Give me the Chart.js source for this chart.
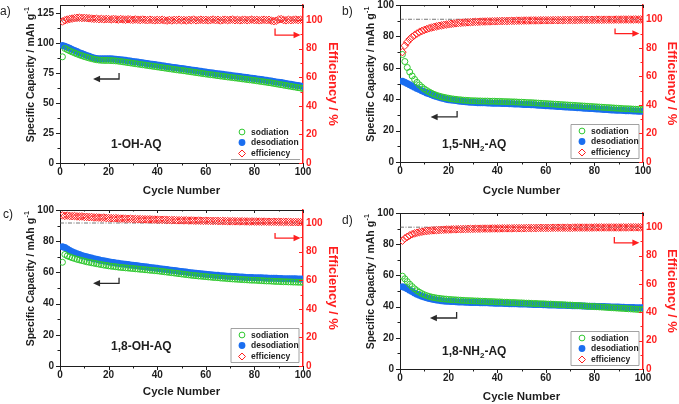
<!DOCTYPE html>
<html>
<head>
<meta charset="utf-8">
<script src="https://cdn.jsdelivr.net/npm/chart.js@4.4.0/dist/chart.umd.min.js"></script>
<style>
html, body { margin: 0; padding: 0; background: #fff; }
#wrap { position: relative; width: 679px; height: 404px; overflow: hidden; }
#wrap canvas { position: absolute; }
</style>
</head>
<body>
<div id="wrap">
  <canvas id="pa" width="340" height="200" style="left:0;top:0"></canvas>
  <canvas id="pb" width="339" height="200" style="left:340px;top:0"></canvas>
  <canvas id="pc" width="340" height="204" style="left:0;top:200px"></canvas>
  <canvas id="pd" width="339" height="204" style="left:340px;top:200px"></canvas>
</div>
<script>
// cycle numbers
var cycles = [1,2,3,4,5,6,7,8,9,10,11,12,13,14,15,16,17,18,19,20,
  21,22,23,24,25,26,27,28,29,30,31,32,33,34,35,36,37,38,39,40,
  41,42,43,44,45,46,47,48,49,50,51,52,53,54,55,56,57,58,59,60,
  61,62,63,64,65,66,67,68,69,70,71,72,73,74,75,76,77,78,79,80,
  81,82,83,84,85,86,87,88,89,90,91,92,93,94,95,96,97,98,99,100];

// tick labels
var xTicks = [0, 20, 40, 60, 80, 100];
var capTicksA = [0, 25, 50, 75, 100, 125];
var capTicks = [0, 20, 40, 60, 80, 100];
var effTicks = [0, 20, 40, 60, 80, 100];

// a) 1-OH-AQ
var sodA = [88.5,95.5,94.5,93.5,92.6,91.7,90.9,90.1,89.4,88.7,88.1,87.5,87.0,86.5,86.1,85.8,85.6,85.5,85.5,85.5,
  85.4,85.3,85.1,84.9,84.6,84.3,84.0,83.7,83.4,83.1,82.8,82.5,82.2,81.9,81.6,81.3,81.0,80.7,80.4,80.1,
  79.8,79.5,79.2,78.9,78.6,78.3,78.0,77.7,77.4,77.2,76.9,76.6,76.3,76.0,75.7,75.4,75.1,74.8,74.5,74.2,
  73.9,73.6,73.4,73.1,72.8,72.5,72.3,72.0,71.7,71.5,71.2,70.9,70.7,70.4,70.1,69.9,69.6,69.3,69.1,68.8,
  68.5,68.2,67.9,67.6,67.3,67.0,66.7,66.3,66.0,65.6,65.3,64.9,64.6,64.2,63.9,63.5,63.2,62.8,62.5,62.1];
var desA = [98.0,97.3,96.5,95.6,94.7,93.8,92.9,92.0,91.2,90.4,89.6,88.9,88.2,87.6,87.2,87.0,86.9,86.9,86.9,86.9,
  86.8,86.7,86.5,86.3,86.0,85.9,85.6,85.3,85.0,84.7,84.4,84.1,83.8,83.5,83.2,82.9,82.6,82.3,82.0,81.7,
  81.4,81.1,80.8,80.5,80.2,79.9,79.6,79.3,79.0,78.8,78.5,78.2,77.9,77.6,77.3,77.0,76.7,76.4,76.1,75.8,
  75.5,75.2,75.0,74.7,74.4,74.1,73.9,73.6,73.3,73.1,72.8,72.5,72.3,72.0,71.7,71.5,71.2,70.9,70.7,70.4,
  70.1,69.8,69.5,69.2,68.9,68.6,68.3,67.9,67.6,67.3,67.0,66.6,66.3,65.9,65.6,65.2,64.9,64.5,64.2,63.8];
var effA = [99.0,99.8,100.3,100.7,101.0,101.3,101.5,101.6,101.4,101.5,101.3,101.2,101.0,100.8,100.9,100.6,100.8,100.5,100.7,100.6,
  100.4,100.7,100.5,100.3,100.6,100.4,100.2,100.5,100.3,100.1,100.4,100.2,100.0,100.3,100.1,99.9,100.2,100.0,99.8,100.1,
  99.9,100.2,99.8,99.6,100.0,99.7,100.1,99.9,100.2,99.8,100.0,99.7,100.1,99.9,100.3,99.8,100.0,100.2,99.9,100.1,
  99.8,100.0,100.3,99.9,100.1,99.7,100.0,100.2,99.9,100.1,100.3,99.9,100.1,99.8,100.0,100.2,99.9,100.1,100.3,99.9,
  100.1,99.8,100.0,100.2,99.9,100.1,99.6,99.2,99.5,100.4,100.6,100.0,99.8,100.2,99.9,100.1,100.3,100.0,100.2,99.9];

// b) 1,5-NH2-AQ
var sodB = [68.5,64.0,60.2,57.3,54.8,52.6,50.7,49.1,47.7,46.5,45.5,44.6,43.8,43.1,42.5,42.0,41.6,41.2,40.9,40.6,
  40.3,40.1,39.9,39.7,39.6,39.4,39.3,39.2,39.1,39.0,39.0,38.9,38.9,38.8,38.8,38.8,38.7,38.7,38.7,38.6,
  38.6,38.5,38.5,38.4,38.4,38.3,38.3,38.2,38.1,38.1,38.0,37.9,37.8,37.8,37.7,37.6,37.5,37.4,37.3,37.2,
  37.1,37.0,36.9,36.8,36.7,36.6,36.5,36.4,36.3,36.2,36.1,36.0,35.9,35.8,35.7,35.6,35.5,35.4,35.3,35.2,
  35.1,35.0,34.9,34.8,34.7,34.6,34.5,34.4,34.3,34.2,34.1,34.0,33.9,33.9,33.8,33.7,33.6,33.6,33.5,33.4];
var desB = [51.5,50.8,50.0,49.2,48.4,47.6,46.8,46.1,45.4,44.7,44.0,43.4,42.8,42.2,41.7,41.2,40.8,40.4,40.0,39.7,
  39.5,39.3,39.1,38.9,38.7,38.5,38.4,38.2,38.1,38.0,37.9,37.8,37.8,37.7,37.7,37.6,37.6,37.5,37.5,37.4,
  37.4,37.3,37.3,37.2,37.1,37.1,37.0,36.9,36.9,36.8,36.7,36.6,36.6,36.5,36.4,36.3,36.2,36.1,36.0,35.9,
  35.8,35.7,35.6,35.5,35.4,35.3,35.2,35.1,35.0,34.9,34.8,34.7,34.6,34.5,34.4,34.3,34.2,34.1,34.0,33.9,
  33.8,33.7,33.6,33.5,33.4,33.3,33.2,33.1,33.0,32.9,32.9,32.8,32.7,32.7,32.6,32.5,32.5,32.4,32.3,32.3];
var effB = [77.0,81.5,84.0,86.0,87.6,88.9,90.0,91.0,91.8,92.5,93.1,93.7,94.2,94.6,95.0,95.4,95.7,96.0,96.3,96.5,
  96.8,97.0,97.2,97.4,97.5,97.7,97.8,97.9,98.0,98.1,98.2,98.2,98.3,98.4,98.4,98.5,98.5,98.6,98.6,98.7,
  98.7,98.8,98.8,98.8,98.9,98.9,98.9,99.0,99.0,99.0,99.1,99.1,99.1,99.2,99.2,99.2,99.2,99.3,99.3,99.3,
  99.3,99.3,99.4,99.4,99.4,99.4,99.4,99.5,99.5,99.5,99.5,99.5,99.5,99.6,99.6,99.6,99.6,99.6,99.6,99.6,
  99.7,99.7,99.6,99.7,99.7,99.7,99.7,99.7,99.8,99.7,99.8,99.8,99.8,99.8,99.8,99.8,99.9,99.8,99.9,99.9];

// c) 1,8-OH-AQ
var sodC = [66.5,71.5,70.6,70.0,69.4,68.9,68.4,68.0,67.6,67.2,66.8,66.5,66.2,65.9,65.6,65.3,65.0,64.7,64.5,64.2,
  64.0,63.8,63.6,63.4,63.2,63.1,62.9,62.8,62.6,62.5,62.3,62.2,62.0,61.9,61.7,61.6,61.4,61.3,61.1,61.0,
  60.8,60.6,60.4,60.2,60.0,59.8,59.6,59.4,59.2,59.0,58.8,58.6,58.4,58.2,58.0,57.9,57.7,57.6,57.4,57.3,
  57.1,57.0,56.8,56.7,56.6,56.4,56.3,56.2,56.0,55.9,55.8,55.7,55.6,55.5,55.4,55.3,55.2,55.1,55.0,55.0,
  54.9,54.8,54.7,54.6,54.5,54.5,54.4,54.3,54.2,54.2,54.1,54.0,54.0,53.9,53.9,53.8,53.8,53.7,53.7,53.6];
var desC = [76.5,76.0,75.0,74.1,73.3,72.6,72.0,71.4,70.9,70.4,70.0,69.6,69.2,68.8,68.4,68.1,67.7,67.4,67.1,66.8,
  66.5,66.3,66.0,65.8,65.6,65.4,65.2,65.0,64.8,64.6,64.4,64.2,64.0,63.8,63.6,63.4,63.2,63.0,62.8,62.6,
  62.4,62.2,62.0,61.8,61.6,61.4,61.2,61.0,60.8,60.6,60.4,60.2,60.0,59.8,59.6,59.4,59.3,59.1,58.9,58.8,
  58.6,58.5,58.3,58.2,58.1,57.9,57.8,57.7,57.6,57.5,57.4,57.3,57.2,57.1,57.0,56.9,56.8,56.8,56.7,56.6,
  56.6,56.5,56.5,56.4,56.4,56.3,56.3,56.2,56.2,56.1,56.1,56.0,56.0,56.0,55.9,55.9,55.9,55.8,55.8,55.8];
var effC = [105.3,105.0,105.2,104.9,104.8,104.9,104.6,104.5,104.6,104.3,104.3,104.1,104.2,103.9,103.9,103.8,103.7,103.8,103.5,103.5,
  103.4,103.3,103.4,103.2,103.1,103.1,103.0,102.9,103.0,102.8,102.8,102.7,102.7,102.6,102.6,102.5,102.6,102.4,102.4,102.3,
  102.3,102.2,102.3,102.1,102.1,102.0,102.1,101.9,101.9,101.9,101.8,101.9,101.7,101.8,101.7,101.6,101.7,101.6,101.5,101.6,
  101.5,101.5,101.4,101.5,101.4,101.3,101.4,101.3,101.3,101.2,101.3,101.2,101.2,101.1,101.2,101.1,101.1,101.0,101.1,101.0,
  101.0,101.0,100.9,101.0,100.9,100.9,100.8,100.9,100.8,100.8,100.8,100.7,100.8,100.7,100.7,100.6,100.7,100.6,100.6,100.6];

// d) 1,8-NH2-AQ
var sodD = [59.5,57.8,56.0,54.3,52.8,51.4,50.2,49.2,48.3,47.6,47.0,46.5,46.1,45.8,45.5,45.3,45.1,44.9,44.8,44.6,
  44.5,44.4,44.3,44.2,44.1,44.0,43.9,43.8,43.8,43.7,43.6,43.6,43.5,43.4,43.4,43.3,43.2,43.2,43.1,43.0,
  43.0,42.9,42.8,42.8,42.7,42.6,42.6,42.5,42.4,42.4,42.3,42.2,42.2,42.1,42.0,42.0,41.9,41.8,41.8,41.7,
  41.6,41.6,41.5,41.4,41.3,41.3,41.2,41.1,41.0,41.0,40.9,40.8,40.7,40.6,40.5,40.4,40.3,40.2,40.1,40.0,
  39.9,39.8,39.7,39.6,39.5,39.4,39.3,39.2,39.1,39.0,38.9,38.8,38.7,38.6,38.5,38.4,38.3,38.2,38.1,38.0];
var desD = [52.8,52.2,51.4,50.5,49.6,48.7,47.9,47.2,46.6,46.1,45.6,45.2,44.8,44.5,44.2,44.0,43.8,43.6,43.5,43.4,
  43.3,43.2,43.1,43.0,43.0,42.9,42.8,42.8,42.7,42.7,42.6,42.6,42.5,42.5,42.4,42.4,42.3,42.3,42.2,42.2,
  42.1,42.1,42.0,42.0,41.9,41.9,41.8,41.8,41.7,41.7,41.6,41.6,41.5,41.5,41.4,41.4,41.3,41.3,41.2,41.2,
  41.1,41.1,41.0,41.0,40.9,40.9,40.8,40.8,40.7,40.7,40.6,40.6,40.5,40.5,40.4,40.4,40.3,40.3,40.2,40.2,
  40.1,40.1,40.0,40.0,39.9,39.9,39.8,39.8,39.7,39.7,39.6,39.6,39.5,39.5,39.4,39.4,39.3,39.3,39.2,39.2];
var effD = [90.5,92.0,93.2,94.2,95.0,95.6,96.1,96.5,96.8,97.1,97.3,97.5,97.7,97.8,97.9,98.0,98.1,98.2,98.3,98.3,
  98.4,98.5,98.5,98.6,98.6,98.7,98.7,98.8,98.8,98.8,98.9,98.9,98.9,99.0,99.0,99.0,99.0,99.1,99.1,99.1,
  99.1,99.2,99.2,99.2,99.2,99.2,99.3,99.3,99.3,99.3,99.3,99.4,99.4,99.4,99.4,99.4,99.5,99.5,99.5,99.5,
  99.5,99.5,99.6,99.6,99.6,99.6,99.6,99.6,99.6,99.5,99.6,99.7,99.7,99.7,99.7,99.7,99.7,99.7,99.7,99.8,
  99.8,99.8,99.8,99.8,99.8,99.8,99.8,99.8,99.8,99.8,99.8,99.9,99.8,99.9,99.9,99.9,99.9,99.9,99.9,100.0];

var legendNames = ['sodiation', 'desodiation', 'efficiency'];
var xTitle = 'Cycle Number';
var yTitle = 'Specific Capacity / mAh g';
var y1Title = 'Efficiency / %';

var FONT = "'Liberation Sans', Arial, sans-serif";
var GREEN = '#2fc82f', BLUE = '#1a6ef0', RED = '#ff1f1f', INK = '#1e1e1e';

function pts(vals) {
  return cycles.map(function (c, i) { return { x: c, y: vals[i] }; });
}

// replace the generated ticks with the fixed list
function fixTicks(list) {
  return function (s) {
    s.ticks = list.map(function (v) { return { value: v }; });
  };
}

function noPad(s) { s.paddingTop = 0; s.paddingBottom = 0; s.paddingLeft = 0; s.paddingRight = 0; }

function arrowHead(ctx, x, y, dir) {
  ctx.beginPath();
  ctx.moveTo(x, y);
  ctx.lineTo(x - dir * 7, y - 3.2);
  ctx.lineTo(x - dir * 7, y + 3.2);
  ctx.closePath();
  ctx.fill();
}

function makeDecor(p) {
  return {
    id: 'decor',
    beforeDatasetsDraw: function (chart) {
      var ctx = chart.ctx, ca = chart.chartArea, s = chart.scales;
      var y100 = s.y1.getPixelForValue(100);
      ctx.save();
      ctx.strokeStyle = '#555';
      ctx.lineWidth = 0.8;
      ctx.setLineDash([4, 1.5, 1, 1.5]);
      ctx.beginPath();
      ctx.moveTo(ca.left, y100);
      ctx.lineTo(ca.right, y100);
      ctx.stroke();
      ctx.restore();
    },
    afterDraw: function (chart) {
      var ctx = chart.ctx, ca = chart.chartArea, s = chart.scales;
      ctx.save();
      ctx.lineWidth = 1;

      // top frame line
      ctx.strokeStyle = INK;
      ctx.beginPath();
      ctx.moveTo(ca.left, ca.top + 0.5);
      ctx.lineTo(ca.right, ca.top + 0.5);
      ctx.stroke();

      // tick marks: major + minor
      function marks(scale, draw) {
        var t = scale.ticks.map(function (k) { return k.value; });
        for (var i = 0; i < t.length; i++) {
          draw(scale.getPixelForValue(t[i]), true);
          if (i < t.length - 1) draw(scale.getPixelForValue((t[i] + t[i + 1]) / 2), false);
        }
      }
      ctx.strokeStyle = INK;
      marks(s.x, function (px, major) {
        ctx.beginPath();
        ctx.moveTo(Math.round(px) + 0.5, ca.bottom);
        ctx.lineTo(Math.round(px) + 0.5, ca.bottom + (major ? 4 : 2.5));
        ctx.moveTo(Math.round(px) + 0.5, ca.top);
        ctx.lineTo(Math.round(px) + 0.5, ca.top + (major ? 3 : 1.5));
        ctx.stroke();
      });
      marks(s.y, function (py, major) {
        ctx.beginPath();
        ctx.moveTo(ca.left, Math.round(py) + 0.5);
        ctx.lineTo(ca.left - (major ? 4 : 2.5), Math.round(py) + 0.5);
        ctx.stroke();
      });
      ctx.strokeStyle = RED;
      marks(s.y1, function (py, major) {
        ctx.beginPath();
        ctx.moveTo(ca.right, Math.round(py) + 0.5);
        ctx.lineTo(ca.right - (major ? 4 : 2.5), Math.round(py) + 0.5);
        ctx.stroke();
      });

      // black arrow (points to left axis)
      var b = p.blackArrow;
      var bx1 = s.x.getPixelForValue(b.x1), bx2 = s.x.getPixelForValue(b.x2);
      var by = s.y.getPixelForValue(b.y), byt = s.y.getPixelForValue(b.yTop);
      ctx.strokeStyle = '#2a2a2a';
      ctx.fillStyle = '#2a2a2a';
      ctx.lineWidth = 1.3;
      ctx.beginPath();
      ctx.moveTo(bx1 + 5, by);
      ctx.lineTo(bx2, by);
      ctx.lineTo(bx2, byt);
      ctx.stroke();
      arrowHead(ctx, bx1, by, -1);

      // red arrow (points to right axis)
      var r = p.redArrow;
      var rx1 = s.x.getPixelForValue(r.x1), rx2 = s.x.getPixelForValue(r.x2);
      var ry = s.y1.getPixelForValue(r.y), ryt = s.y1.getPixelForValue(r.yTop);
      ctx.strokeStyle = RED;
      ctx.fillStyle = RED;
      ctx.beginPath();
      ctx.moveTo(rx1, ryt);
      ctx.lineTo(rx1, ry);
      ctx.lineTo(rx2 - 5, ry);
      ctx.stroke();
      arrowHead(ctx, rx2, ry, 1);

      // legend
      ctx.lineWidth = 0.8;
      ctx.strokeStyle = '#8a8a8a';
      var lx0 = ca.right - 72, lx1 = ca.right - 4, ly0 = ca.bottom - 37.5, ly1 = ca.bottom - 3.5;
      ctx.beginPath();
      if (p.legendBox) {
        ctx.rect(lx0, ly0, lx1 - lx0, ly1 - ly0);
      } else {
        ctx.moveTo(lx0, ly1);
        ctx.lineTo(lx1 + 1, ly1);
      }
      ctx.stroke();
      var mx = ca.right - 61, tx = ca.right - 52;
      var rows = [ca.bottom - 31, ca.bottom - 20.5, ca.bottom - 9.5];
      ctx.lineWidth = 1;
      ctx.strokeStyle = GREEN;
      ctx.beginPath();
      ctx.arc(mx, rows[0], 2.9, 0, Math.PI * 2);
      ctx.stroke();
      ctx.fillStyle = BLUE;
      ctx.beginPath();
      ctx.arc(mx, rows[1], 3.4, 0, Math.PI * 2);
      ctx.fill();
      ctx.strokeStyle = RED;
      ctx.beginPath();
      ctx.moveTo(mx, rows[2] - 3.5);
      ctx.lineTo(mx + 3.5, rows[2]);
      ctx.lineTo(mx, rows[2] + 3.5);
      ctx.lineTo(mx - 3.5, rows[2]);
      ctx.closePath();
      ctx.stroke();
      ctx.fillStyle = INK;
      ctx.font = 'bold 8.5px ' + FONT;
      ctx.textBaseline = 'middle';
      ctx.textAlign = 'left';
      for (var i = 0; i < 3; i++) ctx.fillText(legendNames[i], tx, rows[i] + 0.5);

      // compound name with subscript
      var nx = ca.left + p.nameDx, ny = ca.bottom - p.nameDy;
      p.name.forEach(function (part) {
        if (part.sub) {
          ctx.font = 'bold 8px ' + FONT;
          ctx.fillText(part.t, nx, ny + 3.5);
        } else {
          ctx.font = 'bold 12px ' + FONT;
          ctx.fillText(part.t, nx, ny);
        }
        nx += ctx.measureText(part.t).width;
      });

      // left axis title with superscript
      ctx.translate(ca.left - 28.5, (ca.top + ca.bottom) / 2 - 9);
      ctx.rotate(-Math.PI / 2);
      ctx.font = 'bold 10.5px ' + FONT;
      var w1 = ctx.measureText(yTitle).width;
      ctx.font = 'bold 7px ' + FONT;
      var w2 = ctx.measureText('-1').width;
      var sx = -(w1 + w2) / 2;
      ctx.font = 'bold 10.5px ' + FONT;
      ctx.fillText(yTitle, sx, 0);
      ctx.font = 'bold 7px ' + FONT;
      ctx.fillText('-1', sx + w1 + 0.5, -4);
      ctx.setTransform(1, 0, 0, 1, 0, 0);

      // panel letter
      ctx.font = '12px ' + FONT;
      ctx.fillStyle = INK;
      ctx.fillText(p.letter, p.letterX, p.letterY);
      ctx.restore();
    }
  };
}

function buildChart(id, p) {
  var el = document.getElementById(id);
  var W = el.width, H = el.height;
  var tickFont = { family: FONT, size: 10, weight: 'bold' };
  return new Chart(el, {
    type: 'scatter',
    data: {
      datasets: [
        { label: legendNames[2], data: pts(p.eff), yAxisID: 'y1', pointStyle: 'rectRot', pointRadius: 3.8,
          pointBorderWidth: 1, borderColor: RED, pointBorderColor: RED, backgroundColor: 'rgba(0,0,0,0)', pointBackgroundColor: 'rgba(0,0,0,0)' },
        { label: legendNames[0], data: pts(p.sod), yAxisID: 'y', pointStyle: 'circle', pointRadius: 3,
          pointBorderWidth: 1, borderColor: GREEN, pointBorderColor: GREEN, backgroundColor: 'rgba(0,0,0,0)', pointBackgroundColor: 'rgba(0,0,0,0)' },
        { label: legendNames[1], data: pts(p.des), yAxisID: 'y', pointStyle: 'circle', pointRadius: 3.5,
          pointBorderWidth: 0, borderColor: BLUE, pointBorderColor: BLUE, backgroundColor: BLUE, pointBackgroundColor: BLUE }
      ]
    },
    options: {
      responsive: false,
      animation: false,
      events: [],
      layout: { padding: { top: p.top, left: 0, right: 0, bottom: 0 } },
      plugins: { legend: { display: false }, tooltip: { enabled: false } },
      scales: {
        x: {
          type: 'linear', min: 0, max: 100,
          grid: { display: false, drawTicks: false },
          border: { color: INK, width: 1 },
          ticks: { padding: 3, color: INK, font: tickFont, maxRotation: 0, autoSkip: false },
          afterBuildTicks: fixTicks(xTicks),
          title: { display: true, text: xTitle, color: INK, font: { family: FONT, size: 11.5, weight: 'bold' },
                   padding: { top: 0, bottom: p.xTitlePad } },
          afterFit: function (s) { s.height = H - p.bottom; noPad(s); }
        },
        y: {
          position: 'left', min: 0, max: p.yMax,
          grid: { display: false, drawTicks: false },
          border: { color: INK, width: 1 },
          ticks: { padding: 6, color: INK, font: tickFont, autoSkip: false },
          afterBuildTicks: fixTicks(p.yTicks),
          afterFit: function (s) { s.width = 60; noPad(s); }
        },
        y1: {
          position: 'right', min: 0, max: p.y1Max,
          grid: { display: false, drawTicks: false },
          border: { color: RED, width: 1.5 },
          ticks: { padding: 3, color: RED, font: tickFont, autoSkip: false },
          afterBuildTicks: fixTicks(effTicks),
          title: { display: true, text: y1Title, color: RED, font: { family: FONT, size: 13, weight: 'bold' },
                   padding: { top: 0, bottom: 0 } },
          afterFit: function (s) { s.width = W - 303; noPad(s); }
        }
      }
    },
    plugins: [makeDecor(p)]
  });
}

buildChart('pa', {
  sod: sodA, des: desA, eff: effA, top: 5, bottom: 163, yMax: 131.7, yTicks: capTicksA, y1Max: 110.5,
  xTitlePad: 2.5, legendBox: false,
  name: [{ t: '1-OH-AQ' }], nameDx: 51, nameDy: 18,
  blackArrow: { x1: 13.6, x2: 24.3, y: 70, yTop: 75 },
  redArrow: { x1: 88.5, x2: 99, yTop: 94, y: 89.5 },
  letter: 'a)', letterX: 0, letterY: 12
});
buildChart('pb', {
  sod: sodB, des: desB, eff: effB, top: 5, bottom: 162, yMax: 100, yTicks: capTicks, y1Max: 110,
  xTitlePad: 2.5, legendBox: true,
  name: [{ t: '1,5-NH' }, { t: '2', sub: true }, { t: '-AQ' }], nameDx: 42, nameDy: 17,
  blackArrow: { x1: 12.6, x2: 23.5, y: 28.7, yTop: 32.5 },
  redArrow: { x1: 88.5, x2: 98.5, yTop: 93.5, y: 90 },
  letter: 'b)', letterX: 2, letterY: 12
});
buildChart('pc', {
  sod: sodC, des: desC, eff: effC, top: 10, bottom: 166, yMax: 100, yTicks: capTicks, y1Max: 109.1,
  xTitlePad: 5.5, legendBox: true,
  name: [{ t: '1,8-OH-AQ' }], nameDx: 51, nameDy: 19,
  blackArrow: { x1: 13.6, x2: 24.3, y: 53, yTop: 56.5 },
  redArrow: { x1: 88.5, x2: 99, yTop: 93, y: 89.5 },
  letter: 'c)', letterX: 3, letterY: 15
});
buildChart('pd', {
  sod: sodD, des: desD, eff: effD, top: 13, bottom: 169, yMax: 100, yTicks: capTicks, y1Max: 110,
  xTitlePad: 0.5, legendBox: true,
  name: [{ t: '1,8-NH' }, { t: '2', sub: true }, { t: '-AQ' }], nameDx: 42, nameDy: 17,
  blackArrow: { x1: 12.3, x2: 23.3, y: 32.7, yTop: 36.5 },
  redArrow: { x1: 88.2, x2: 98.5, yTop: 93, y: 89 },
  letter: 'd)', letterX: 2, letterY: 20.5
});
</script>
</body>
</html>
